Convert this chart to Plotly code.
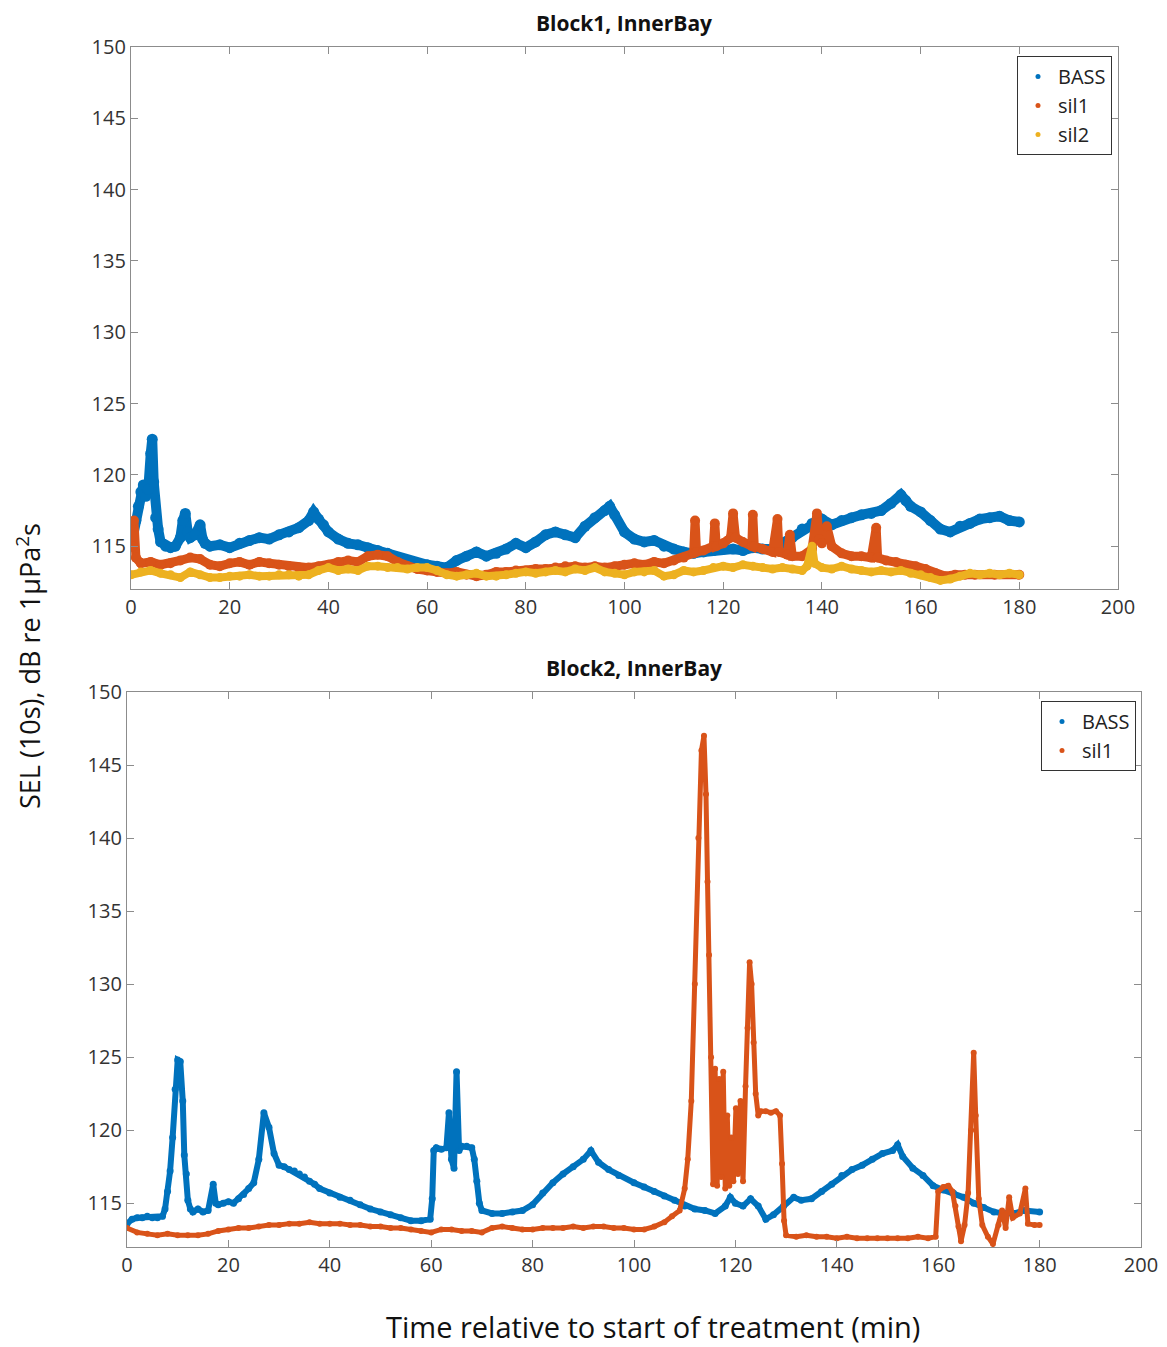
import plotly.graph_objects as go

# MATLAB default colour order
BASS_COLOR = "#0072BD"
SIL1_COLOR = "#D95319"
SIL2_COLOR = "#EDB120"

# ---- Block1, InnerBay ----
top_bass_x = [0, 0.5, 1, 1.5, 2, 2.5, 3, 3.5, 4, 4.3, 4.6, 5, 5.5, 6, 7, 8, 9, 10, 10.5, 11, 11.5, 12, 13, 14, 14.5,
              15, 16, 18, 20, 22, 24, 26, 28, 30, 32, 34, 36, 37, 38, 39, 40, 42, 44, 46, 48, 50, 52, 54, 56, 58,
              60, 62, 64, 66, 68, 70, 72, 74, 76, 78, 80, 82, 84, 86, 88, 90, 92, 94, 96, 97, 98, 100, 102, 104,
              106, 108, 110, 112, 114, 116, 118, 120, 122, 124, 126, 128, 130, 132, 134, 136, 138, 140, 142, 144,
              146, 148, 150, 152, 154, 156, 157, 158, 160, 162, 164, 166, 168, 170, 172, 174, 176, 178, 180]
top_bass_y = [115.0, 115.8, 116.8, 117.8, 118.8, 119.3, 118.5, 119.0, 121.5, 122.5, 119.5, 117.0, 116.2, 115.3,
              115.0, 114.9, 115.0, 115.6, 116.8, 117.3, 116.0, 115.6, 115.8, 116.5, 115.5, 115.2, 115.0, 115.1,
              114.9, 115.2, 115.4, 115.6, 115.5, 115.8, 116.0, 116.3, 116.8, 117.4, 116.9, 116.5, 116.0, 115.5,
              115.2, 115.1, 114.9, 114.7, 114.5, 114.2, 114.0, 113.8, 113.7, 113.6, 113.5, 114.0, 114.3, 114.6,
              114.3, 114.5, 114.8, 115.2, 114.9, 115.3, 115.8, 116.0, 115.8, 115.6, 116.4, 117.0, 117.5, 117.8,
              117.2, 116.0, 115.5, 115.3, 115.4, 115.0, 114.8, 114.6, 114.5, 114.6, 114.7, 114.8, 114.8, 114.7,
              114.9, 114.8, 114.8, 115.2, 115.6, 116.2, 116.6, 116.9, 116.5, 116.8, 117.0, 117.2, 117.3, 117.5,
              118.0, 118.6, 118.2, 117.8, 117.4, 116.8, 116.2, 116.0, 116.4, 116.6, 116.9, 117.0, 117.1, 116.8,
              116.7]

top_sil1_x = [0, 0.3, 0.6, 1, 2, 4, 6, 8, 10, 12, 14, 16, 18, 20, 22, 24, 26, 28, 30, 32, 34, 36, 38, 40, 42, 44,
              46, 48, 50, 52, 54, 56, 58, 60, 62, 64, 66, 68, 70, 72, 74, 76, 78, 80, 82, 84, 86, 88, 90, 92, 94,
              96, 98, 100, 102, 104, 106, 108, 110, 112, 114, 114.3, 114.6, 116, 118, 118.3, 118.6, 120, 121.5,
              122, 122.5, 124, 125.8, 126, 126.3, 128, 130, 131, 131.3, 133, 133.5, 134, 136, 138, 139, 139.5,
              140, 141, 142, 144, 146, 148, 150, 151, 151.3, 153, 155, 157, 159, 161, 163, 165, 167, 169, 171,
              175, 180]
top_sil1_y = [116.5, 115.0, 116.8, 114.2, 113.8, 113.9, 113.7, 113.8, 114.0, 114.2, 114.1, 113.7, 113.6, 113.8,
              113.9, 113.7, 113.9, 113.8, 113.7, 113.6, 113.5, 113.5, 113.6, 113.7, 113.9, 114.0, 113.9, 114.3,
              114.4, 114.3, 113.9, 113.6, 113.4, 113.3, 113.2, 113.1, 113.2, 113.0, 112.9, 113.0, 113.2, 113.2,
              113.3, 113.3, 113.4, 113.4, 113.5, 113.6, 113.6, 113.5, 113.6, 113.5, 113.6, 113.7, 113.8, 113.7,
              113.9, 113.8, 114.0, 114.2, 114.5, 116.8, 114.6, 114.7, 115.0, 116.6, 115.0, 115.2, 115.6, 117.3,
              115.6, 115.3, 115.0, 117.2, 115.0, 114.8, 114.6, 116.9, 114.6, 114.4, 115.8, 114.3, 114.3, 114.8,
              117.3, 115.5, 115.2, 116.4, 115.0, 114.5, 114.3, 114.3, 114.2, 116.3, 114.2, 114.0, 113.9, 113.7,
              113.6, 113.4, 113.1, 112.9, 113.0, 113.0, 113.0, 113.0, 113.0]

top_sil2_x = [0, 2, 4, 6, 8, 10, 12, 14, 16, 18, 20, 22, 24, 26, 28, 30, 32, 34, 36, 38, 40, 42, 44, 46, 48, 50,
              52, 54, 56, 58, 60, 62, 64, 66, 68, 70, 72, 74, 76, 78, 80, 82, 84, 86, 88, 90, 92, 94, 96, 98, 100,
              102, 104, 106, 108, 110, 112, 114, 116, 118, 120, 122, 124, 126, 128, 130, 132, 134, 136, 137, 138,
              138.5, 140, 142, 144, 146, 148, 150, 152, 154, 156, 158, 160, 162, 164, 166, 168, 170, 172, 174,
              176, 178, 180]
top_sil2_y = [113.0, 113.2, 113.3, 113.1, 113.0, 112.8, 113.2, 113.0, 112.8, 112.8, 112.9, 112.9, 113.0, 112.9,
              112.9, 113.0, 113.0, 112.9, 113.0, 113.3, 113.5, 113.3, 113.4, 113.3, 113.6, 113.6, 113.5, 113.5,
              113.4, 113.5, 113.5, 113.3, 113.0, 112.9, 113.0, 113.1, 112.9, 112.9, 113.0, 113.1, 113.2, 113.1,
              113.2, 113.3, 113.2, 113.4, 113.3, 113.5, 113.2, 113.1, 113.0, 113.2, 113.2, 113.3, 112.9, 113.0,
              113.3, 113.2, 113.3, 113.5, 113.6, 113.5, 113.7, 113.6, 113.5, 113.4, 113.5, 113.4, 113.3, 113.6,
              115.0, 113.8, 113.5, 113.4, 113.6, 113.4, 113.3, 113.2, 113.3, 113.2, 113.3, 113.1, 113.0, 112.8,
              112.6, 112.7, 112.9, 113.1, 113.0, 113.1, 113.0, 113.1, 113.0]

# ---- Block2, InnerBay ----
bot_bass_x = [0, 1, 2, 3, 4, 5, 6, 7, 7.5, 8, 8.5, 9, 9.5, 10, 10.5, 11, 11.3, 11.7, 12, 12.5, 13, 14, 15, 16, 17,
              17.5, 18, 19, 20, 21, 22, 23, 24, 25, 26, 27, 28, 29, 30, 31, 32, 33, 34, 35, 36, 37, 38, 40, 42,
              44, 46, 48, 50, 52, 54, 56, 58, 59.8, 60.2, 60.5, 61, 62, 63, 63.5, 64, 64.5, 65, 65.5, 66, 67, 68,
              68.5, 69, 69.5, 70, 72, 74, 76, 78, 80, 82, 84, 86, 88, 90, 91.5, 93, 95, 97, 100, 102, 104, 106,
              108, 110, 112, 114, 116, 118, 119, 120, 121.5, 123, 124.5, 126, 127.5, 129.5, 131.5, 133, 135, 137,
              139, 141, 143, 145, 147, 149, 151, 152, 153, 155, 157, 159, 161, 163, 165, 167, 169, 171, 173, 175,
              177, 180]
bot_bass_y = [113.6, 113.9, 114.0, 114.0, 114.1, 114.0, 114.0, 114.1, 114.6, 115.8, 117.2, 119.5, 122.8, 124.8,
              124.7, 122.0, 118.3, 117.0, 115.2, 114.6, 114.4, 114.6, 114.4, 114.5, 116.3, 115.0, 114.9, 115.0,
              115.1, 115.0, 115.3, 115.6, 116.0, 116.4, 118.0, 121.2, 120.2, 118.4, 117.6, 117.5, 117.3, 117.2,
              117.0, 116.8, 116.5, 116.3, 116.0, 115.7, 115.4, 115.2, 114.9, 114.6, 114.4, 114.2, 114.0, 113.8,
              113.8, 113.9, 115.3, 118.6, 118.8, 118.7, 118.8, 121.2, 118.0, 117.4, 124.0, 118.6, 118.9, 118.9,
              118.8, 118.0, 116.5, 115.0, 114.5, 114.3, 114.3, 114.4, 114.5, 114.9, 115.7, 116.4, 117.0, 117.5,
              118.0, 118.6, 117.8, 117.3, 116.9, 116.4, 116.1, 115.8, 115.5, 115.2, 114.8, 114.6, 114.5, 114.3,
              114.8, 115.4, 115.0, 114.8, 115.3, 114.8, 113.9, 114.2, 114.8, 115.4, 115.2, 115.3, 115.8, 116.3,
              116.9, 117.3, 117.6, 118.0, 118.4, 118.6, 119.0, 118.2, 117.4, 116.9, 116.2, 115.9, 115.7, 115.4,
              115.0, 114.7, 114.4, 114.3, 114.3, 114.5, 114.4]

bot_sil1_x = [0, 2, 4, 6, 8, 10, 12, 14, 16, 18, 20, 22, 24, 26, 28, 30, 32, 34, 36, 38, 40, 42, 44, 46, 48, 50,
              52, 54, 56, 58, 60, 62, 64, 66, 68, 70, 72, 74, 76, 78, 80, 82, 84, 86, 88, 90, 92, 94, 96, 98, 100,
              102, 104, 106, 107.5, 109, 110, 110.6, 111.3, 112, 112.7, 113.3, 113.8, 114.2, 114.5, 114.8, 115.2,
              115.6, 116, 116.4, 116.8, 117.2, 117.6, 118, 118.4, 118.8, 119.2, 119.6, 120.1, 120.5, 121, 121.5,
              122, 122.4, 122.8, 123.2, 123.6, 124, 124.5, 125, 126, 127, 128, 128.8, 129.2, 129.6, 130, 132, 134,
              136, 138, 140, 142, 144, 146, 148, 150, 152, 154, 156, 158, 159.5, 160, 161, 162, 162.8, 163.4, 164,
              164.5, 165.2, 165.9, 166.5, 167, 167.4, 168, 168.7, 169.8, 170.8, 171.9, 172.6, 173.3, 174, 174.7,
              176.1, 177.2, 177.7, 179, 180]
bot_sil1_y = [113.3, 113.0, 112.9, 112.8, 112.9, 112.8, 112.8, 112.8, 112.9, 113.1, 113.2, 113.3, 113.3, 113.4,
              113.5, 113.5, 113.6, 113.6, 113.7, 113.6, 113.6, 113.6, 113.5, 113.5, 113.4, 113.4, 113.3, 113.3,
              113.2, 113.1, 113.0, 113.2, 113.2, 113.1, 113.1, 113.0, 113.3, 113.4, 113.3, 113.2, 113.2, 113.3,
              113.3, 113.3, 113.4, 113.3, 113.4, 113.4, 113.3, 113.3, 113.2, 113.2, 113.4, 113.7, 114.1, 114.5,
              116.0, 118.0, 122.0, 130.0, 140.0, 146.0, 147.0, 143.0, 137.0, 132.0, 125.0, 116.3, 124.2, 116.2,
              123.5, 116.8, 124.0, 116.0, 121.0, 116.2, 119.5, 116.5, 121.5, 117.0, 122.0, 116.5, 123.0, 127.0,
              131.5, 130.0, 126.0, 122.5, 121.0, 121.3, 121.3, 121.2, 121.3, 121.0, 117.7, 113.8, 112.8, 112.7,
              112.8, 112.7, 112.7, 112.6, 112.7, 112.6, 112.6, 112.6, 112.6, 112.6, 112.6, 112.7, 112.6, 112.7,
              115.8, 116.1, 116.2, 115.8, 114.8, 113.4, 112.4, 113.5, 115.7, 120.0, 125.3, 121.0, 115.3, 113.5,
              112.7, 112.2, 113.5, 114.5, 113.3, 115.4, 114.0, 114.3, 116.0, 113.6, 113.5, 113.5]

x_ticks = [0, 20, 40, 60, 80, 100, 120, 140, 160, 180, 200]
y_ticks = [115, 120, 125, 130, 135, 140, 145, 150]

FONT = "Open Sans"
W, H = 1167, 1347
OFF = 7  # page margin around the plot div


def px_x(p):
    return (p - OFF) / W


def px_y(p):
    return 1 - (p - OFF) / H


fig = go.Figure()


def add_series(x, y, color, xa, ya, width):
    fig.add_trace(go.Scatter(x=x, y=y, mode="lines+markers", xaxis=xa, yaxis=ya, showlegend=False,
                             hoverinfo="skip", line=dict(color=color, width=width),
                             marker=dict(color=color, size=width + 1)))


def add_key(name, color, legend):
    fig.add_trace(go.Scatter(x=[None], y=[None], mode="markers", name=name, legend=legend,
                             marker=dict(color=color, size=5)))


add_series(top_bass_x, top_bass_y, BASS_COLOR, "x", "y", 10)
add_series(top_sil1_x, top_sil1_y, SIL1_COLOR, "x", "y", 9)
add_series(top_sil2_x, top_sil2_y, SIL2_COLOR, "x", "y", 8)
add_series(bot_bass_x, bot_bass_y, BASS_COLOR, "x2", "y2", 6)
add_series(bot_sil1_x, bot_sil1_y, SIL1_COLOR, "x2", "y2", 5)

add_key("BASS", BASS_COLOR, "legend")
add_key("sil1", SIL1_COLOR, "legend")
add_key("sil2", SIL2_COLOR, "legend")
add_key("BASS", BASS_COLOR, "legend2")
add_key("sil1", SIL1_COLOR, "legend2")

axis_common = dict(
    showgrid=False, zeroline=False, showline=True, linecolor="#8c8c8c", linewidth=1.2, mirror="ticks",
    ticks="inside", ticklen=7, tickcolor="#8c8c8c", automargin=False,
    tickfont=dict(family=FONT, size=20, color="#333333"),
)

legend_common = dict(xanchor="right", yanchor="top", bgcolor="white", bordercolor="#333333", borderwidth=1,
                     font=dict(family=FONT, size=20, color="#222222"), itemwidth=30, tracegroupgap=0)


def label(text, x, y, size, angle=0):
    return dict(text=text, x=px_x(x), y=px_y(y), xref="paper", yref="paper", showarrow=False,
                xanchor="center", yanchor="middle", textangle=angle,
                font=dict(family=FONT, size=size, color="#111111"))


fig.update_layout(
    width=W, height=H,
    paper_bgcolor="white", plot_bgcolor="white",
    margin=dict(l=0, r=0, t=0, b=0, autoexpand=False),
    font=dict(family=FONT, color="#222222"),
    xaxis=dict(domain=[px_x(130), px_x(1117)], range=[0, 200], tickvals=x_ticks, anchor="y", **axis_common),
    yaxis=dict(domain=[px_y(588), px_y(46)], range=[112, 150], tickvals=y_ticks, anchor="x", **axis_common),
    xaxis2=dict(domain=[px_x(126), px_x(1140)], range=[0, 200], tickvals=x_ticks, anchor="y2", **axis_common),
    yaxis2=dict(domain=[px_y(1246), px_y(691)], range=[112, 150], tickvals=y_ticks, anchor="x2",
                **axis_common),
    legend=dict(x=px_x(1111), y=px_y(55), **legend_common),
    legend2=dict(x=px_x(1135), y=px_y(700), **legend_common),
    annotations=[
        label("<b>Block1, InnerBay</b>", 623, 22, 21),
        label("<b>Block2, InnerBay</b>", 633, 667, 21),
        label("SEL (10s), dB re 1µPa<sup>2</sup>s", 27, 665, 27, angle=-90),
        label("Time relative to start of treatment (min)", 652, 1325, 29),
    ],
)

fig.write_html("out.html")
